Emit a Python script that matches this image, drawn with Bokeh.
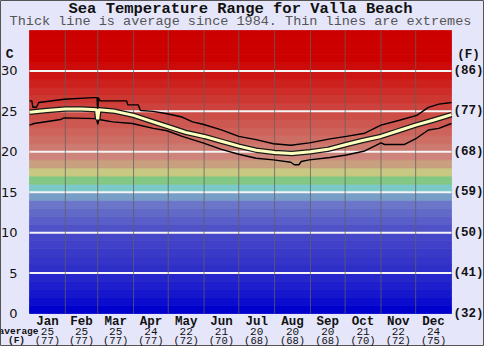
from bokeh.plotting import figure
from bokeh.models import Range1d
from bokeh.embed import file_html
from bokeh.resources import INLINE
from bokeh.core.properties import value

# ---------------- data ----------------
title_text = "Sea Temperature Range for Valla Beach"
subtitle_text = "Thick line is average since 1984. Thin lines are extremes"
months = ["Jan", "Feb", "Mar", "Apr", "May", "Jun", "Jul", "Aug", "Sep", "Oct", "Nov", "Dec"]
month_days = [31, 28, 31, 30, 31, 30, 31, 31, 30, 31, 30, 31]
avg_c = [25, 25, 25, 24, 22, 21, 20, 20, 20, 21, 22, 24]
avg_f = [77, 77, 77, 77, 72, 70, 68, 68, 68, 70, 72, 75]
c_ticks = [0, 5, 10, 15, 20, 25, 30]
f_ticks = [32, 41, 50, 59, 68, 77, 86]

avg_days = [0, 15, 31, 45, 58, 59, 60, 74, 90, 105, 120, 135, 151, 166, 181, 196, 212,
            227, 243, 258, 274, 288, 304, 319, 334, 349, 365]
avg_vals = [24.9, 25.1, 25.3, 25.3, 25.2, 24.0, 25.2, 25.0, 24.5, 23.8, 23.1, 22.4, 21.9,
            21.3, 20.7, 20.2, 19.9, 19.8, 20.0, 20.3, 20.9, 21.4, 21.9, 22.6, 23.3, 23.9, 24.6]

max_days = [0, 2, 3, 6, 8, 30, 55, 58.5, 59, 59.5, 61, 84, 85, 94, 96, 107, 119, 132, 141,
            150, 166, 181, 196, 211, 226, 242, 260, 274, 290, 304, 320, 335, 345, 354, 365]
max_vals = [26.3, 26.3, 25.5, 25.5, 26.1, 26.5, 26.7, 26.7, 24.5, 26.7, 26.3, 26.3, 25.8,
            25.8, 25.1, 25.0, 24.7, 24.3, 23.7, 23.4, 22.7, 21.9, 21.5, 21.0, 20.8, 21.1,
            21.6, 21.9, 22.3, 23.3, 23.9, 24.5, 25.5, 25.9, 26.1]

min_days = [0, 4, 27, 30, 58, 59, 60, 72, 89, 107, 119, 132, 150, 166, 181, 196, 211, 226,
            229, 233, 235, 242, 260, 274, 290, 304, 307, 324, 335, 345, 354, 365]
min_vals = [23.3, 23.5, 24.0, 24.2, 24.1, 23.4, 24.0, 23.7, 23.5, 22.9, 22.6, 21.9, 21.1,
            20.3, 19.7, 19.2, 19.0, 18.7, 18.4, 18.4, 18.8, 19.0, 19.3, 19.6, 20.1, 21.1,
            20.9, 20.9, 21.7, 22.7, 22.9, 23.5]

# ---------------- layout (pixels) ----------------
W, H = 484, 346
PL, PR, PT, PB = 29, 33, 30, 33          # plot-area margins inside the canvas
DAYS, YMAX = 365, 35
ppd = (W - PL - PR) / DAYS               # pixels per day
ppc = (H - PT - PB) / YMAX               # pixels per degree C

def px_x(dx):
    return dx / ppd

def px_y(dy):
    return dy / ppc

def band_color(i):
    blues = [(0, 0, 204), (12, 12, 206), (22, 22, 204), (30, 30, 204), (38, 38, 202),
             (46, 46, 200), (52, 52, 200), (58, 58, 200), (64, 64, 200), (70, 70, 200),
             (80, 82, 200), (90, 94, 200), (98, 106, 200), (108, 118, 200),
             (120, 158, 200), (122, 200, 200), (130, 200, 132), (200, 200, 130),
             (200, 160, 128), (206, 132, 122)]
    if i < len(blues):
        r, g, b = blues[i]
    else:
        f = min((i - 20) / 11.0, 1.0)
        r, g, b = 205, int(122 * (1 - f)), int(112 * (1 - f))
    return "#%02x%02x%02x" % (r, g, b)

BG = "#e6e6fa"
MONO = "Liberation Mono"
INK = "#111111"

p = figure(width=W, height=H,
           x_range=Range1d(-px_x(PL), DAYS + px_x(PR)),
           y_range=Range1d(-px_y(PB), YMAX + px_y(PT)),
           output_backend="svg", toolbar_location=None,
           x_axis_type=None, y_axis_type=None,
           min_border=0, min_border_left=0, min_border_right=0,
           min_border_top=0, min_border_bottom=0)
p.border_fill_color = BG
p.background_fill_color = BG
p.outline_line_color = "#555555"
p.grid.visible = False

def txt(x, y, t, size, font=MONO, bold=False, align="center", color=INK):
    p.text(x=[x], y=[y], text=[t], text_font=value(font), text_font_size=value(size),
           text_font_style="bold" if bold else "normal", text_align=align,
           text_baseline="middle", text_color=color)

# colour bands
bottoms = list(range(YMAX))
tops = [b + 1 for b in bottoms]
cols = [band_color(b) for b in bottoms]
p.quad(left=0, right=DAYS, bottom=bottoms, top=tops, fill_color=cols,
       line_color=cols, line_width=0.8)

# horizontal white lines
hl = [t for t in c_ticks if t > 0]
p.segment(x0=[0] * len(hl), x1=[DAYS] * len(hl), y0=hl, y1=hl, line_color="#f4f4f4", line_width=2)

# vertical month lines
bounds = []
acc = 0
for d in month_days[:-1]:
    acc += d
    bounds.append(acc)
p.segment(x0=bounds, x1=bounds, y0=[0] * len(bounds), y1=[YMAX] * len(bounds),
          line_color="#606060", line_alpha=0.75, line_width=1)

# extremes and average
p.line(max_days, max_vals, line_color="black", line_width=1.4)
p.line(min_days, min_vals, line_color="black", line_width=1.4)
p.line(avg_days, avg_vals, line_color="#1a1a1a", line_width=5.5)
p.line(avg_days, avg_vals, line_color="#ffffbe", line_width=3)

# titles
txt(DAYS / 2, YMAX + px_y(22), title_text, "15.5px", bold=True)
txt(DAYS / 2, YMAX + px_y(9), subtitle_text, "13.5px", color="#555555")

# left (C) and right (F) tick labels
for c in c_ticks:
    txt(-px_x(12), c, str(c), "13px", font="DejaVu Sans", align="right")
for c, f in zip(c_ticks, f_ticks):
    txt(DAYS + px_x(2), c, "(%d)" % f, "12.5px", bold=True, align="left")
txt(-px_x(16), 32, "C", "13px", bold=True, align="right")
txt(DAYS + px_x(17), 32, "(F)", "12.5px", bold=True)

# bottom month labels
start = 0
for m, d, ac, af in zip(months, month_days, avg_c, avg_f):
    cx = start + d / 2.0
    start += d
    txt(cx, -px_y(8.5), m, "12.5px", bold=True)
    txt(cx, -px_y(18), str(ac), "11px")
    txt(cx, -px_y(27), "(%d)" % af, "10.5px")
txt(px_x(9), -px_y(18), "average", "9.5px", bold=True, align="right")
txt(-px_x(13), -px_y(27), "(F)", "9.5px", bold=True)

open("out.html", "w").write(file_html(p, INLINE))
